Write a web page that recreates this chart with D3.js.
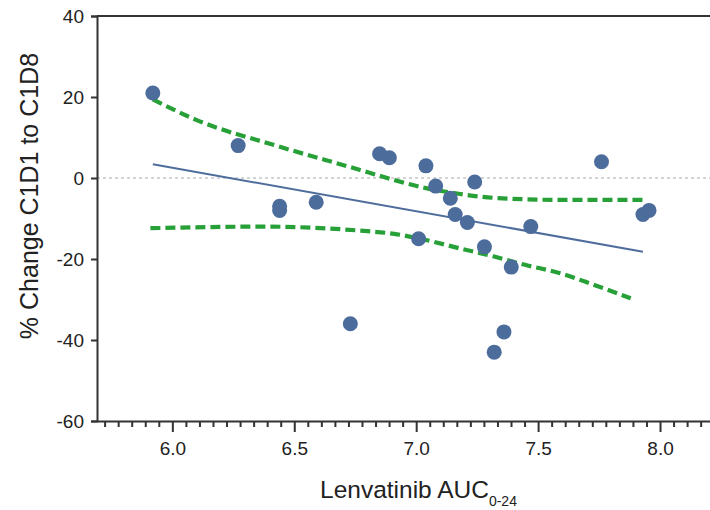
<!DOCTYPE html>
<html><head><meta charset="utf-8">
<script src="https://cdn.jsdelivr.net/npm/d3@7/dist/d3.min.js"></script>
<style>body{margin:0;background:#fff} text{font-family:"Liberation Sans",Arial,sans-serif}</style>
</head><body>
<svg id="c" width="710" height="510"></svg>
<script>
// Data
const aucX = [5.92, 6.27, 6.44, 6.44, 6.59, 6.73, 6.85, 6.89, 7.04, 7.08, 7.14, 7.16, 7.21, 7.24, 7.01, 7.28, 7.39, 7.47, 7.36, 7.32, 7.76, 7.93, 7.955];
const pctChange = [21, 8, -7, -8, -6, -36, 6, 5, 3, -2, -5, -9, -11, -1, -15, -17, -22, -12, -38, -43, 4, -9, -8];
const fitX = [5.92, 7.93];
const fitY = [3.4, -18.2];
const upperX = [5.92, 6.10, 6.43, 6.77, 6.91, 7.04, 7.18, 7.32, 7.59, 7.94];
const upperY = [19.4, 14.3, 7.9, 2.0, -0.5, -2.5, -3.95, -4.9, -5.4, -5.4];
const lowerX = [5.91, 6.37, 6.77, 6.91, 7.04, 7.18, 7.32, 7.45, 7.59, 7.73, 7.88];
const lowerY = [-12.4, -12.0, -13.0, -13.8, -15.3, -17.4, -19.4, -21.5, -23.5, -26.4, -29.7];
const xTickValues = [6.0, 6.5, 7.0, 7.5, 8.0];
const yTickValues = [40, 20, 0, -20, -40, -60];
const xLabel = "Lenvatinib AUC";
const xLabelSub = "0-24";
const yLabel = "% Change C1D1 to C1D8";

const svg = d3.select("#c");
const x = d3.scaleLinear().domain([5.691, 8.205]).range([97, 710]);
const y = d3.scaleLinear().domain([-60, 40]).range([421, 16]);
const axisColor = "#333";

// zero reference line
svg.append("line")
  .attr("x1", x(5.691)).attr("x2", x(8.205))
  .attr("y1", y(0)).attr("y2", y(0))
  .attr("stroke", "#aaa").attr("stroke-width", 1.2).attr("stroke-dasharray", "3,3");

// top frame
svg.append("line")
  .attr("x1", 97).attr("x2", 710).attr("y1", y(40)).attr("y2", y(40))
  .attr("stroke", axisColor).attr("stroke-width", 2);

// confidence bands
const upper = upperX.map((v, i) => [v, upperY[i]]);
const lower = lowerX.map((v, i) => [v, lowerY[i]]);
const band = d3.line().x(d => x(d[0])).y(d => y(d[1])).curve(d3.curveMonotoneX);
[upper, lower].forEach(b => {
  svg.append("path").attr("d", band(b)).attr("fill", "none")
    .attr("stroke", "#27a037").attr("stroke-width", 4.2).attr("stroke-dasharray", "10,5");
});

// regression line
const fit = fitX.map((v, i) => [v, fitY[i]]);
svg.append("path").attr("d", d3.line().x(d => x(d[0])).y(d => y(d[1]))(fit))
  .attr("fill", "none").attr("stroke", "#4f6d9c").attr("stroke-width", 2);

// points
svg.append("g").selectAll("circle").data(aucX.map((v, i) => [v, pctChange[i]]))
  .join("circle")
  .attr("cx", d => x(d[0])).attr("cy", d => y(d[1])).attr("r", 7.5)
  .attr("fill", "#4c6c9c");

// y axis
const gy = svg.append("g").attr("transform", "translate(97,0)")
  .call(d3.axisLeft(y).tickValues(yTickValues).tickSize(6).tickPadding(7).tickFormat(d => String(d)));
gy.select(".domain").attr("stroke", axisColor).attr("stroke-width", 2);
gy.selectAll(".tick line").attr("stroke", axisColor).attr("stroke-width", 2);
gy.selectAll(".tick text").attr("font-size", 19).attr("fill", "#222").attr("font-family", "'Liberation Sans',Arial,sans-serif");

// x axis minor ticks
const minorTicks = d3.range(Math.ceil((5.691 - 6) * 18), Math.floor((8.205 - 6) * 18) + 1)
  .map(k => 6 + k / 18).filter(v => Math.abs(((v - 6) * 18) % 9) > 1e-6);
const gxm = svg.append("g").attr("transform", "translate(0,421)")
  .call(d3.axisBottom(x).tickValues(minorTicks).tickSize(6).tickFormat(""));
gxm.select(".domain").remove();
gxm.selectAll(".tick line").attr("stroke", axisColor).attr("stroke-width", 2);

const gx = svg.append("g").attr("transform", "translate(0,421)")
  .call(d3.axisBottom(x).tickValues(xTickValues).tickSize(11).tickPadding(10).tickSizeOuter(0).tickFormat(d3.format(".1f")));
gx.select(".domain").attr("stroke", axisColor).attr("stroke-width", 2);
gx.selectAll(".tick line").attr("stroke", axisColor).attr("stroke-width", 2);
gx.selectAll(".tick text").attr("font-size", 19).attr("fill", "#222").attr("font-family", "'Liberation Sans',Arial,sans-serif");

// axis titles
const xt = svg.append("text").attr("x", 320).attr("y", 498).attr("font-size", 24.5).attr("fill", "#222");
xt.append("tspan").text(xLabel);
xt.append("tspan").text(xLabelSub).attr("font-size", 14).attr("dy", 8);

svg.append("text").attr("transform", "translate(38,196) rotate(-90)")
  .attr("text-anchor", "middle").attr("font-size", 25).attr("fill", "#222").text(yLabel);
</script>
</body></html>
